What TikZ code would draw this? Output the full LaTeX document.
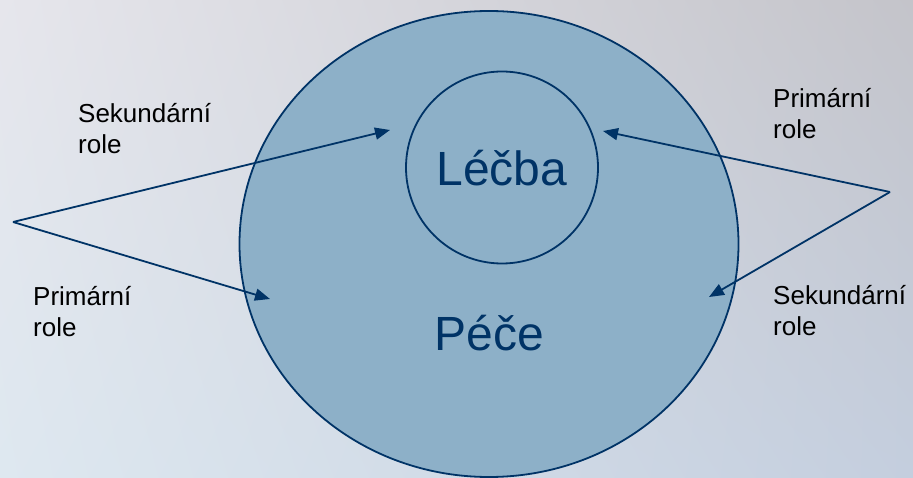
\documentclass[tikz,border=0pt]{standalone}
\usepackage{fontspec}
\setmainfont{Liberation Sans}
\usetikzlibrary{arrows.meta,shapes.geometric,shadings}
\definecolor{navy}{RGB}{0,51,102}
\definecolor{fillblue}{RGB}{141,176,200}
\definecolor{bgtl}{RGB}{230,230,236}
\definecolor{bgtr}{RGB}{196,196,202}
\definecolor{bgbl}{RGB}{222,232,240}
\definecolor{bgbr}{RGB}{196,206,222}
\tikzset{
  ring/.style={draw=navy, line width=1.8pt, fill=fillblue, inner sep=0pt},
  bigtext/.style={text=navy, font=\fontsize{48}{56}\selectfont, inner sep=0pt, anchor=base},
  rolelabel/.style={text=black, font=\fontsize{26}{31}\selectfont, align=left, inner sep=0pt, anchor=base west},
  conn/.style={draw=navy, line width=1.8pt, -{Triangle[length=15pt,width=12pt]}}
}
\begin{document}
\begin{tikzpicture}[x=1pt,y=-1pt]
\useasboundingbox (0,0) rectangle (913,478);
\shade[upper left=bgtl, upper right=bgtr, lower left=bgbl, lower right=bgbr] (0,0) rectangle (913,478);
\node[ring, ellipse, minimum width=499pt, minimum height=466pt] (pece) at (489,244) {};
\node[ring, circle, minimum size=192pt] (lecba) at (502,167.5) {};
\node[bigtext] (lecbatext) at (502,186) {Léčba};
\node[bigtext] (pecetext) at (489,350) {Péče};
\node[rolelabel] (sekL) at (78,154) {Sekundární\\role};
\node[rolelabel] (primL) at (33,337) {Primární\\role};
\node[rolelabel] (primR) at (773,139) {Primární\\role};
\node[rolelabel] (sekR) at (773,335) {Sekundární\\role};
\coordinate (apexL) at (13,222);
\coordinate (apexR) at (890,192);
\coordinate (tipLU) at (390,130);
\coordinate (tipLD) at (270,299);
\coordinate (tipRU) at (603,131);
\coordinate (tipRD) at (709,297);
\draw[conn] (apexL) -- (tipLU);
\draw[conn] (apexL) -- (tipLD);
\draw[conn] (apexR) -- (tipRU);
\draw[conn] (apexR) -- (tipRD);
\end{tikzpicture}
\end{document}
